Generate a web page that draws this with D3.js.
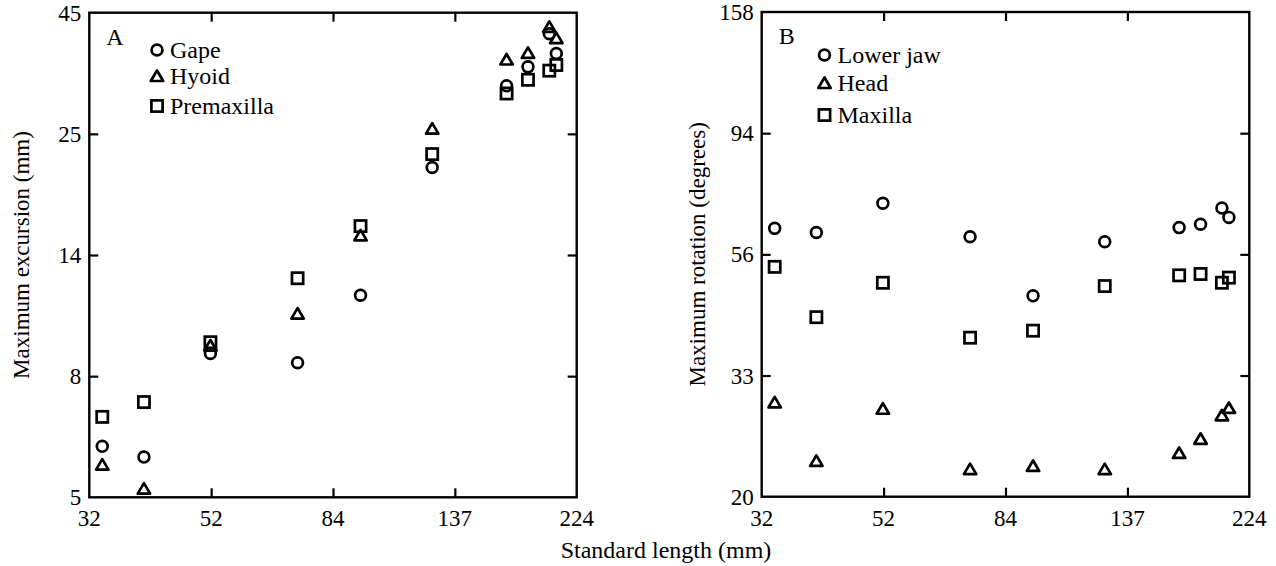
<!DOCTYPE html>
<html>
<head>
<meta charset="utf-8">
<script src="https://cdn.jsdelivr.net/npm/d3@7"></script>
<style>
  body { margin: 0; background: #fff; }
  svg { display: block; }
  text { font-family: "Liberation Serif", "Times New Roman", serif; fill: #000; }
</style>
</head>
<body>
<svg id="chart" width="1276" height="566"></svg>
<script>
// standard length of each fish (mm), same specimens in both panels
var lengths = [33.7, 39.8, 51.9, 73.5, 94.5, 125.8, 169.3, 184.4, 200.8, 206.5];

// panel A, maximum excursion (mm)
var gape      = [6.3, 6.0, 9.6, 9.2, 12.5, 22.3, 32.3, 35.2, 40.9, 37.4];
var hyoid     = [5.8, 5.2, 9.95, 11.5, 16.4, 26.6, 36.4, 37.5, 42.2, 40.1];
var premax    = [7.2, 7.7, 10.1, 13.5, 17.1, 23.7, 31.2, 33.2, 34.6, 35.5];

// panel B, maximum rotation (degrees)
var lowerJaw  = [62.8, 61.7, 69.9, 60.6, 47.1, 59.3, 63.0, 63.9, 68.5, 65.8];
var head      = [29.9, 23.3, 29.1, 22.5, 22.8, 22.5, 24.1, 25.6, 28.3, 29.2];
var maxilla   = [53.3, 43.0, 49.8, 39.4, 40.6, 49.1, 51.4, 51.7, 49.8, 50.9];

// tick labels (ticks are evenly spaced on the log axis)
var xTickLabels  = ["32", "52", "84", "137", "224"];
var yTickLabelsA = ["5", "8", "14", "25", "45"];
var yTickLabelsB = ["20", "33", "56", "94", "158"];

var svg = d3.select("#chart");

function geoTicks(lo, hi) {
  return d3.range(5).map(function(i){ return lo * Math.pow(hi / lo, i / 4); });
}

function drawMarker(g, shape, x, y) {
  if (shape == "circle") {
    g.append("circle").attr("cx", x).attr("cy", y).attr("r", 5.4)
      .attr("fill", "none").attr("stroke", "#000").attr("stroke-width", 2.7);
  } else if (shape == "triangle") {
    g.append("path")
      .attr("d", "M" + x + "," + (y - 5.5) + "L" + (x + 6.2) + "," + (y + 5) + "L" + (x - 6.2) + "," + (y + 5) + "Z")
      .attr("fill", "none").attr("stroke", "#000").attr("stroke-width", 2.7)
      .attr("stroke-linejoin", "round");
  } else {
    g.append("rect").attr("x", x - 5.6).attr("y", y - 5.6).attr("width", 11.2).attr("height", 11.2)
      .attr("fill", "none").attr("stroke", "#000").attr("stroke-width", 2.7);
  }
}

function panel(opt) {
  var x = d3.scaleLog().domain([32, 224]).range([opt.left, opt.right]);
  var y = d3.scaleLog().domain(opt.yDomain).range([opt.bottom, opt.top]);
  var xt = geoTicks(32, 224);
  var yt = geoTicks(opt.yDomain[0], opt.yDomain[1]);
  var g = svg.append("g");

  // inward ticks on all four sides, interior ones only
  var inner = function(arr){ return arr.slice(1, 4); };
  g.append("g").attr("transform", "translate(0," + opt.bottom + ")")
    .call(d3.axisBottom(x).tickValues(inner(xt)).tickSize(-9).tickFormat(""));
  g.append("g").attr("transform", "translate(0," + opt.top + ")")
    .call(d3.axisTop(x).tickValues(inner(xt)).tickSize(-9).tickFormat(""));
  g.append("g").attr("transform", "translate(" + opt.left + ",0)")
    .call(d3.axisLeft(y).tickValues(inner(yt)).tickSize(-9).tickFormat(""));
  g.append("g").attr("transform", "translate(" + opt.right + ",0)")
    .call(d3.axisRight(y).tickValues(inner(yt)).tickSize(-9).tickFormat(""));
  g.selectAll(".domain").remove();
  g.selectAll(".tick line").attr("stroke", "#000").attr("stroke-width", 2.2);

  // frame
  g.append("rect").attr("x", opt.left).attr("y", opt.top)
    .attr("width", opt.right - opt.left).attr("height", opt.bottom - opt.top)
    .attr("fill", "none").attr("stroke", "#000").attr("stroke-width", 2.4);

  // tick labels
  g.selectAll(".xl").data(xt).join("text")
    .attr("x", function(d){ return x(d); }).attr("y", opt.bottom + 29)
    .attr("text-anchor", "middle").style("font-size", "23px")
    .text(function(d, i){ return xTickLabels[i]; });
  g.selectAll(".yl").data(yt).join("text")
    .attr("x", opt.left - 8).attr("y", function(d){ return y(d); })
    .attr("dy", "0.35em").attr("text-anchor", "end").style("font-size", "23px")
    .text(function(d, i){ return opt.yLabels[i]; });

  // y title
  g.append("text")
    .attr("transform", "translate(" + opt.titleX + "," + ((opt.top + opt.bottom) / 2) + ") rotate(-90)")
    .attr("text-anchor", "middle").attr("dy", "0.35em").style("font-size", "23px")
    .text(opt.yTitle);

  // panel letter
  g.append("text").attr("x", opt.left + 17).attr("y", opt.top + 32)
    .style("font-size", "24px").text(opt.letter);

  // points
  opt.series.forEach(function(s){
    s.values.forEach(function(v, i){
      drawMarker(g, s.shape, x(lengths[i]), y(v));
    });
  });

  // legend
  opt.series.forEach(function(s, i){
    var ly = opt.legendY[i];
    drawMarker(g, s.shape, opt.legendX, ly);
    g.append("text").attr("x", opt.legendX + 13).attr("y", ly + 8)
      .style("font-size", "24px").text(s.name);
  });
}

panel({
  left: 89.3, right: 576.7, top: 12.7, bottom: 497.3,
  yDomain: [5, 45], yLabels: yTickLabelsA,
  yTitle: "Maximum excursion (mm)", titleX: 21, letter: "A",
  legendX: 157, legendY: [50, 76, 106],
  series: [
    {name: "Gape", shape: "circle", values: gape},
    {name: "Hyoid", shape: "triangle", values: hyoid},
    {name: "Premaxilla", shape: "square", values: premax}
  ]
});

panel({
  left: 761.7, right: 1249.3, top: 12, bottom: 496.7,
  yDomain: [20, 158], yLabels: yTickLabelsB,
  yTitle: "Maximum rotation (degrees)", titleX: 697, letter: "B",
  legendX: 824.5, legendY: [55, 83, 115],
  series: [
    {name: "Lower jaw", shape: "circle", values: lowerJaw},
    {name: "Head", shape: "triangle", values: head},
    {name: "Maxilla", shape: "square", values: maxilla}
  ]
});

svg.append("text").attr("x", 666).attr("y", 558)
  .attr("text-anchor", "middle").style("font-size", "24px")
  .text("Standard length (mm)");
</script>
</body>
</html>
